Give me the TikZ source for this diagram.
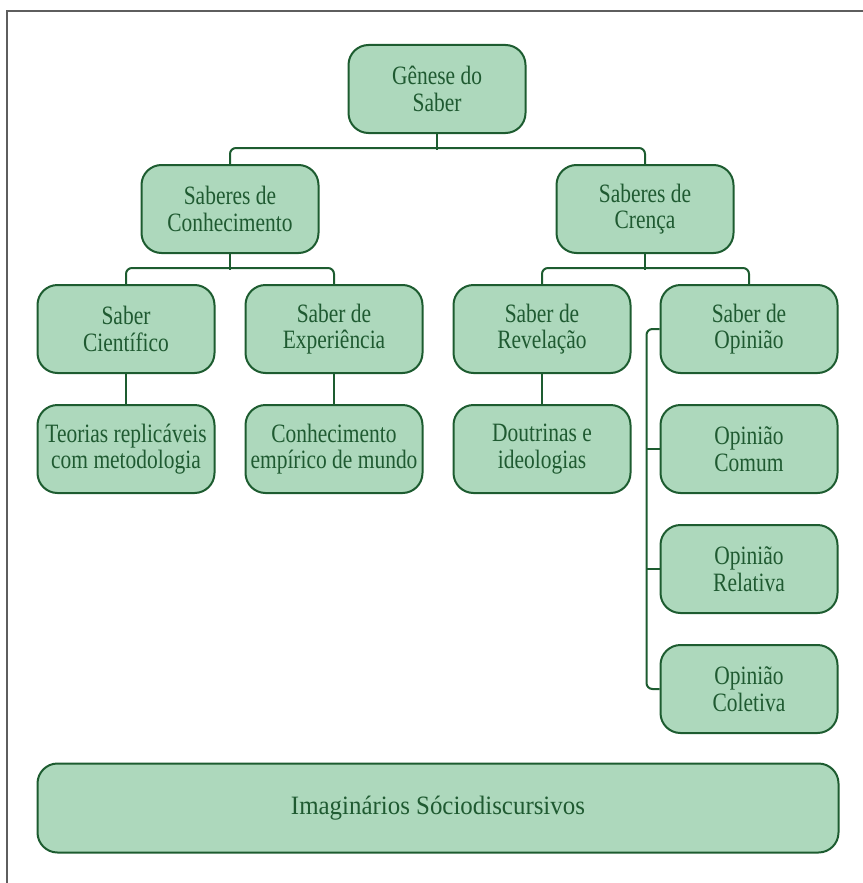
\documentclass[tikz,border=0pt]{standalone}
\usepackage{fontspec}
\setmainfont{Liberation Serif}
\newfontfamily\boxfont{Liberation Serif}[FakeStretch=0.81]
\newfontfamily\widefont{Liberation Serif}[FakeStretch=0.94]
\usepackage{tikz}

\definecolor{boxfill}{HTML}{ADD8BC}
\definecolor{boxline}{HTML}{1D5C30}
\definecolor{boxtext}{HTML}{1F5A31}
\definecolor{framegray}{HTML}{5E5E5E}

\begin{document}
\begin{tikzpicture}[x=1pt, y=-1pt,
    saber/.style={draw=boxline, fill=boxfill, text=boxtext, line width=2pt,
        rounded corners=20pt, minimum width=177pt, minimum height=88pt,
        align=center, inner sep=2pt, font=\boxfont\fontsize{26.5}{26.7}\selectfont},
    elo/.style={draw=boxline, line width=2pt, rounded corners=6pt}]
    \useasboundingbox (0,0) rectangle (862,883);
    \draw[framegray, line width=1.6pt] (7,895) |- (875,11);
    % nodes
    \node[saber] (genese)    at (437,89)  {Gênese do\\Saber};
    \node[saber] (conhec)    at (230,209) {Saberes de\\Conhecimento};
    \node[saber] (crenca)    at (645,209) {Saberes de\\Crença};
    \node[saber] (cientif)   at (126,329) {Saber\\Científico};
    \node[saber] (experien)  at (334,329) {Saber de\\Experiência};
    \node[saber] (revel)     at (542,329) {Saber de\\Revelação};
    \node[saber] (opiniao)   at (749,329) {Saber de\\Opinião};
    \node[saber] (teorias)   at (126,449) {Teorias replicáveis\\com metodologia};
    \node[saber] (empirico)  at (334,449) {Conhecimento\\empírico de mundo};
    \node[saber] (doutrinas) at (542,449) {Doutrinas e\\ideologias};
    \node[saber] (comum)     at (749,449) {Opinião\\Comum};
    \node[saber] (relativa)  at (749,569) {Opinião\\Relativa};
    \node[saber] (coletiva)  at (749,689) {Opinião\\Coletiva};
    \node[saber, minimum width=801pt, minimum height=89pt,
        font=\widefont\fontsize{26.5}{30}\selectfont] (imagin) at (438,808) {Imaginários Sóciodiscursivos};
    % connectors
    \draw[elo] (genese.south) -- ++(0,16);
    \draw[elo] (conhec.north) -- ++(0,-16) -| (crenca.north);
    \draw[elo] (conhec.south) -- ++(0,16);
    \draw[elo] (cientif.north) -- ++(0,-16) -| (experien.north);
    \draw[elo] (crenca.south) -- ++(0,16);
    \draw[elo] (revel.north) -- ++(0,-16) -| (opiniao.north);
    \draw[elo] (cientif) -- (teorias);
    \draw[elo] (experien) -- (empirico);
    \draw[elo] (revel) -- (doutrinas);
    \draw[elo] (opiniao.west) -- ++(-13,0) |- (coletiva.west);
    \draw[elo] (comum.west) -- ++(-13,0);
    \draw[elo] (relativa.west) -- ++(-13,0);
\end{tikzpicture}
\end{document}
